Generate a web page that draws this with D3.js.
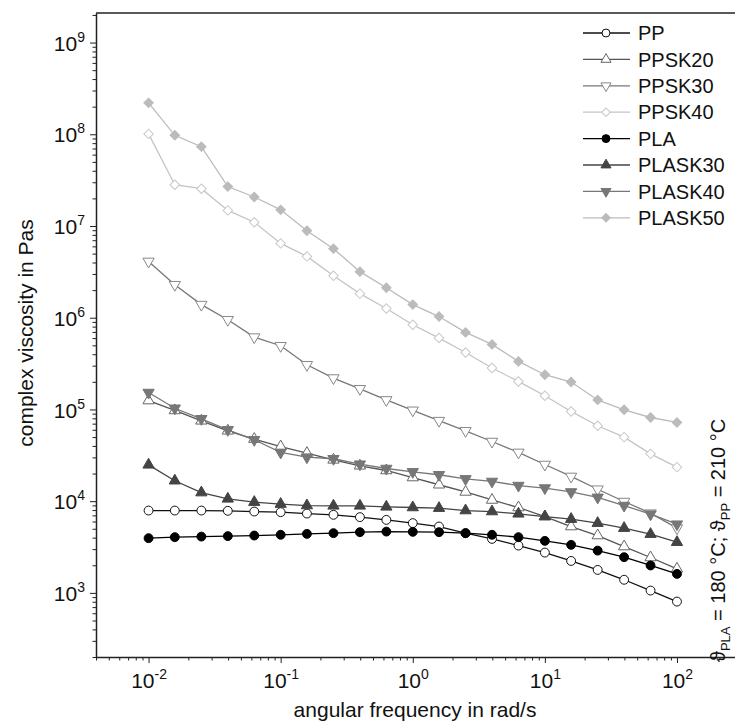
<!DOCTYPE html>
<html>

<head>
    <meta charset="UTF-8" />
    <title>Complex viscosity vs angular frequency</title>
    <script src="https://d3js.org/d3.v7.min.js"></script>
    <style>
        body {
            margin: 0;
            background: white;
        }

        svg text {
            font-family: Arial, "Liberation Sans", sans-serif;
            fill: #111;
        }

        .axis path,
        .axis line {
            stroke: #222;
        }
    </style>
</head>

<body>
    <svg width="735" height="722" id="chart"></svg>

    <script>
        // angular frequency in rad/s (5 points per decade)
        const freq = [0.01, 0.0158, 0.0251, 0.0398, 0.0631, 0.1, 0.158, 0.251, 0.398, 0.631,
            1, 1.58, 2.51, 3.98, 6.31, 10, 15.8, 25.1, 39.8, 63.1, 100];

        // complex viscosity in Pas
        const PP = [7900, 7900, 7900, 7850, 7710, 7590, 7330, 7100, 6700, 6250,
            5760, 5290, 4480, 3880, 3280, 2750, 2230, 1780, 1390, 1060, 804];
        const PPSK20 = [125000, 97500, 75200, 58500, 47500, 39400, 33400, 28200, 24300, 21600,
            18100, 15100, 12600, 10300, 8530, 6800, 5290, 4220, 3200, 2430, 1830];
        const PPSK30 = [4110000, 2290000, 1390000, 951000, 615000, 495000, 307000, 220000, 168000, 127000,
            97900, 75500, 58500, 44700, 34000, 25100, 18600, 13500, 9910, 7400, 5080];
        const PPSK40 = [101000000, 28200000, 25500000, 14800000, 11000000, 6460000, 4660000, 2870000, 1830000, 1260000,
            839000, 600000, 418000, 283000, 202000, 141000, 95100, 66400, 49900, 32800, 23500];
        const PLA = [3950, 4050, 4110, 4160, 4220, 4300, 4400, 4480, 4590, 4660,
            4630, 4590, 4480, 4300, 4050, 3690, 3340, 2890, 2450, 1990, 1610];
        const PLASK30 = [24900, 16700, 12400, 10600, 9760, 9290, 8960, 8890, 8890, 8670,
            8530, 8390, 7900, 7710, 7280, 6800, 6370, 5760, 5080, 4370, 3570];
        const PLASK40 = [153000, 103000, 79100, 60000, 46700, 34000, 30200, 29000, 25300, 22700,
            20900, 19400, 17500, 16400, 14800, 13900, 12600, 11000, 8960, 7210, 5610];
        const PLASK50 = [220000000, 97500000, 73300000, 26900000, 20700000, 15000000, 8890000, 5660000, 3180000, 2120000,
            1390000, 1030000, 692000, 512000, 334000, 239000, 199000, 127000, 99200, 81700, 72100];

        const seriesNames = ["PP", "PPSK20", "PPSK30", "PPSK40", "PLA", "PLASK30", "PLASK40", "PLASK50"];
        const seriesValues = [PP, PPSK20, PPSK30, PPSK40, PLA, PLASK30, PLASK40, PLASK50];

        const xMajorTicks = [0.01, 0.1, 1, 10, 100];
        const xExponents = ["-2", "-1", "0", "1", "2"];
        const yMajorTicks = [1e3, 1e4, 1e5, 1e6, 1e7, 1e8, 1e9];
        const yExponents = ["3", "4", "5", "6", "7", "8", "9"];

        // look of each series
        const styles = {
            PP: { line: "#111", stroke: "#111", fill: "white", sym: d3.symbolCircle, rot: 0, size: 62 },
            PPSK20: { line: "#555", stroke: "#666", fill: "white", sym: d3.symbolTriangle, rot: 0, size: 55 },
            PPSK30: { line: "#777", stroke: "#888", fill: "white", sym: d3.symbolTriangle, rot: 180, size: 55 },
            PPSK40: { line: "#c4c4c4", stroke: "#c8c8c8", fill: "white", sym: d3.symbolSquare, rot: 45, size: 45 },
            PLA: { line: "#000", stroke: "#000", fill: "#000", sym: d3.symbolCircle, rot: 0, size: 62 },
            PLASK30: { line: "#444", stroke: "#444", fill: "#444", sym: d3.symbolTriangle, rot: 0, size: 55 },
            PLASK40: { line: "#777", stroke: "#777", fill: "#777", sym: d3.symbolTriangle, rot: 180, size: 55 },
            PLASK50: { line: "#bbb", stroke: "#bbb", fill: "#bbb", sym: d3.symbolSquare, rot: 45, size: 45 }
        };

        function draw() {
            var svg = d3.select("#chart");
            var plotLeft = 96, plotTop = 13, plotBottom = 657, plotRight = 740;

            var xScale = d3.scaleLog().domain([0.004, 300]).range([plotLeft, plotRight]);
            var yScale = d3.scaleLog().domain([200, 2.1e9]).range([plotBottom, plotTop]);

            // minor ticks 2..9 of each decade
            function minorTicks(scale) {
                var d = scale.domain(), out = [];
                for (var e = Math.floor(Math.log10(d[0])); e <= Math.ceil(Math.log10(d[1])); e++) {
                    for (var m = 2; m <= 9; m++) {
                        var v = m * Math.pow(10, e);
                        if (v >= d[0] && v <= d[1]) out.push(v);
                    }
                }
                return out;
            }

            svg.append("defs").append("clipPath").attr("id", "plotclip")
                .append("rect").attr("x", plotLeft).attr("y", plotTop - 8)
                .attr("width", 735 - plotLeft).attr("height", plotBottom - plotTop + 8);

            // frame top line
            svg.append("line")
                .attr("x1", plotLeft).attr("x2", 735).attr("y1", plotTop).attr("y2", plotTop)
                .attr("stroke", "#222").attr("stroke-width", 1.5);

            // x axis
            svg.append("g").attr("class", "axis").attr("transform", "translate(0," + plotBottom + ")")
                .call(d3.axisBottom(xScale).tickValues(minorTicks(xScale)).tickSize(3.5).tickFormat(""))
                .call(g => g.select(".domain").remove());
            var gx = svg.append("g").attr("class", "axis").attr("transform", "translate(0," + plotBottom + ")")
                .call(d3.axisBottom(xScale).tickValues(xMajorTicks).tickSize(6).tickSizeOuter(0));
            gx.select(".domain").attr("stroke-width", 1.5);
            gx.selectAll("text")
                .attr("font-size", 21).attr("y", 31).attr("dy", null)
                .html((d, i) => "10<tspan font-size='14' dy='-9'>" + xExponents[i] + "</tspan>");

            // y axis
            svg.append("g").attr("class", "axis").attr("transform", "translate(" + plotLeft + ",0)")
                .call(d3.axisLeft(yScale).tickValues(minorTicks(yScale)).tickSize(3.5).tickFormat(""))
                .call(g => g.select(".domain").remove());
            var gy = svg.append("g").attr("class", "axis").attr("transform", "translate(" + plotLeft + ",0)")
                .call(d3.axisLeft(yScale).tickValues(yMajorTicks).tickSize(6).tickSizeOuter(0));
            gy.select(".domain").attr("stroke-width", 1.5);
            gy.selectAll("text")
                .attr("font-size", 21).attr("x", -11).attr("dy", "0.36em")
                .html((d, i) => "10<tspan font-size='14' dy='-9'>" + yExponents[i] + "</tspan>");

            // axis titles
            svg.append("text")
                .attr("x", 415).attr("y", 717)
                .attr("text-anchor", "middle").attr("font-size", 21)
                .text("angular frequency in rad/s");

            svg.append("text")
                .attr("transform", "translate(33,333) rotate(-90)")
                .attr("text-anchor", "middle").attr("font-size", 21)
                .text("complex viscosity in Pas");

            // series
            var plot = svg.append("g").attr("clip-path", "url(#plotclip)");
            var line = d3.line()
                .x((d, i) => xScale(freq[i]))
                .y(d => yScale(d));

            seriesNames.forEach(function (name, k) {
                var st = styles[name];
                var g = plot.append("g");
                g.append("path")
                    .attr("d", line(seriesValues[k]))
                    .attr("fill", "none")
                    .attr("stroke", st.line)
                    .attr("stroke-width", 1.3);
                g.selectAll("path.pt").data(seriesValues[k]).enter()
                    .append("path").attr("class", "pt")
                    .attr("d", d3.symbol().type(st.sym).size(st.size))
                    .attr("transform", (d, i) => "translate(" + xScale(freq[i]) + "," + yScale(d) + ") rotate(" + st.rot + ")")
                    .attr("fill", st.fill)
                    .attr("stroke", st.stroke)
                    .attr("stroke-width", 1);
            });

            // legend
            var legend = svg.append("g");
            seriesNames.forEach(function (name, k) {
                var st = styles[name];
                var ly = 33 + k * 26.4;
                legend.append("line")
                    .attr("x1", 583).attr("x2", 630).attr("y1", ly).attr("y2", ly)
                    .attr("stroke", st.line).attr("stroke-width", 1.3);
                legend.append("path")
                    .attr("d", d3.symbol().type(st.sym).size(st.size * 0.8))
                    .attr("transform", "translate(606," + ly + ") rotate(" + st.rot + ")")
                    .attr("fill", st.fill).attr("stroke", st.stroke).attr("stroke-width", 1);
                legend.append("text")
                    .attr("x", 638).attr("y", ly).attr("dy", "0.36em")
                    .attr("font-size", 20)
                    .text(name);
            });

            // measuring temperatures note
            svg.append("text")
                .attr("transform", "translate(725,662) rotate(-90)")
                .attr("font-size", 20)
                .html("ϑ<tspan font-size='13' dy='5'>PLA</tspan><tspan dy='-5'> = 180 °C; ϑ</tspan><tspan font-size='13' dy='5'>PP</tspan><tspan dy='-5'> = 210 °C</tspan>");
        }

        draw();
    </script>
</body>

</html>
